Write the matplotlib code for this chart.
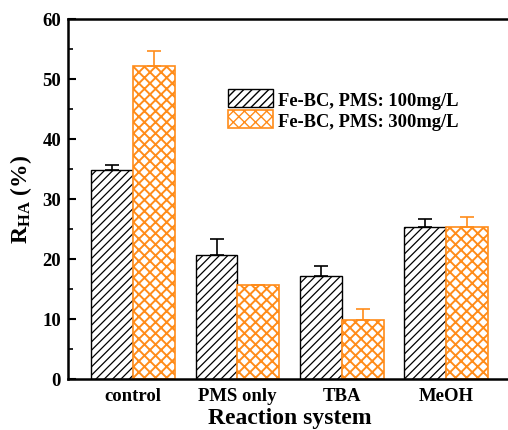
import numpy as np
import matplotlib
matplotlib.use("Agg")
import matplotlib.pyplot as plt

# donnees
systems = ["control", "PMS only", "TBA", "MeOH"]
r_100 = [34.8, 20.7, 17.2, 25.3]
err_100 = [0.8, 2.6, 1.7, 1.4]
r_300 = [52.2, 15.7, 9.9, 25.4]
err_300 = [2.5, 0.0, 1.7, 1.6]
labels = ["Fe-BC, PMS: 100mg/L", "Fe-BC, PMS: 300mg/L"]

ORANGE = "#FF8C1A"

plt.rcParams["font.family"] = ["Liberation Serif", "DejaVu Serif"]
plt.rcParams["font.weight"] = "bold"
plt.rcParams["mathtext.fontset"] = "custom"
plt.rcParams["mathtext.rm"] = "Liberation Serif:bold"
plt.rcParams["mathtext.bf"] = "Liberation Serif:bold"
plt.rcParams["mathtext.it"] = "Liberation Serif:bold"

fig = plt.figure(figsize=(5.08, 4.31), dpi=100)
ax = fig.add_axes([68 / 508, 51 / 431, 443 / 508, 360 / 431])

x = np.arange(len(systems))
w = 0.4
b1 = ax.bar(x - w / 2, r_100, w, color="white", edgecolor="black", hatch="////",
            linewidth=1.0, label=labels[0])
b2 = ax.bar(x + w / 2, r_300, w, color="white", edgecolor=ORANGE, hatch="xxx",
            linewidth=1.2, label=labels[1])
for p in b1:
    p.set_hatch_linewidth(0.9)
for p in b2:
    p.set_hatch_linewidth(1.4)

ax.errorbar(x - w / 2, r_100, yerr=[np.zeros(4), err_100], fmt="none",
            ecolor="black", elinewidth=1.2, capsize=5, capthick=1.2)
ax.errorbar(x + w / 2, r_300, yerr=[np.zeros(4), err_300], fmt="none",
            ecolor=ORANGE, elinewidth=1.2, capsize=5, capthick=1.2)

ax.set_xlim(-0.622, 3.62)
ax.set_ylim(0, 60)
ax.set_xticks(x)
ax.set_xticklabels(systems)
ax.set_yticks(np.arange(0, 61, 10))
ax.set_yticks(np.arange(5, 60, 10), minor=True)
ax.tick_params(axis="x", length=0, pad=6, labelsize=13.5)
ax.tick_params(axis="y", which="major", direction="in", length=6, width=1.5,
               pad=5, labelsize=13.5)
ax.tick_params(axis="y", which="minor", direction="in", length=3.5, width=1.2)
for s in ["left", "bottom", "top", "right"]:
    ax.spines[s].set_linewidth(1.8)

ax.set_xlabel("Reaction system", fontsize=17, fontweight="bold", labelpad=2)
ax.set_ylabel(r"R$_{\mathrm{HA}}$ (%)", fontsize=17, fontweight="bold", labelpad=6)

leg = ax.legend(loc="upper left", bbox_to_anchor=(0.345, 0.825), frameon=False,
                fontsize=13.3, handlelength=2.4, handleheight=1.1,
                labelspacing=0.1, handletextpad=0.3, borderaxespad=0)

fig.savefig("out.png", dpi=100)
